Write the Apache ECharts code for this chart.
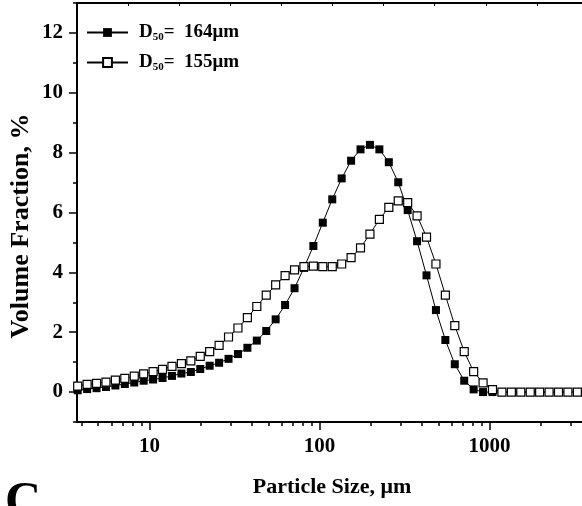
<!DOCTYPE html>
<html>
<head>
<meta charset="utf-8">
<script src="https://cdn.jsdelivr.net/npm/echarts@6/dist/echarts.min.js"></script>
<style>html,body{margin:0;padding:0;background:#fff}#c{width:582px;height:506px}</style>
</head>
<body>
<div id="c"></div>
<script>
// Particle sizes (µm), log-spaced class centres
const sizes = [3.785,4.300,4.886,5.551,6.307,7.166,8.142,9.251,10.51,11.94,
  13.57,15.42,17.52,19.90,22.61,25.69,29.19,33.16,37.68,42.81,
  48.64,55.26,62.79,71.34,81.05,92.09,104.6,118.9,135.1,153.5,
  174.4,198.1,225.1,255.8,290.6,330.2,375.1,426.2,484.2,550.2,
  625.1,710.2,806.9,916.8,1041.7,1183.5,1344.7,1527.8,1735.8,1972,
  2241,2546,2893,3287];
// D50 = 164 µm (filled squares)
const volA = [0.06,0.10,0.13,0.17,0.22,0.27,0.32,0.38,0.42,0.47,
  0.54,0.62,0.67,0.77,0.88,0.98,1.11,1.27,1.48,1.72,
  2.04,2.43,2.91,3.47,4.15,4.88,5.66,6.44,7.14,7.73,
  8.11,8.26,8.11,7.68,7.01,6.08,5.04,3.90,2.74,1.74,
  0.93,0.38,0.09,0.00,0.00,0.00,0.00,0.00,0.00,0.00,
  0.00,0.00,0.00,0.00];
// D50 = 155 µm (open squares)
const volB = [0.20,0.26,0.29,0.33,0.40,0.46,0.53,0.61,0.68,0.76,
  0.86,0.95,1.04,1.19,1.35,1.56,1.84,2.14,2.49,2.86,
  3.24,3.58,3.89,4.08,4.19,4.21,4.19,4.19,4.28,4.49,
  4.82,5.28,5.77,6.17,6.39,6.33,5.89,5.18,4.28,3.24,
  2.22,1.35,0.68,0.31,0.08,0.00,0.00,0.00,0.00,0.00,
  0.00,0.00,0.00,0.00];
const seriesNames = ['A', 'B'];
const seriesLabels = {A: '164μm', B: '155μm'};
const xMin = 3.75, xMax = 3500;
const yMin = -1, yMax = 13;
const yMajor = [0, 2, 4, 6, 8, 10, 12];
const xMinorTicks = [4,5,6,7,8,9,20,30,40,50,60,70,80,90,200,300,400,500,600,700,800,900,2000,3000];

const FONT = '"Liberation Serif", "Times New Roman", serif';
const chart = echarts.init(document.getElementById('c'), null, {renderer: 'canvas'});
const pairs = arr => sizes.map((s, i) => [s, arr[i]]);
const axisLineStyle = {color: '#000', width: 2};
const labelStyle = {color: '#000', fontFamily: FONT, fontWeight: 'bold', fontSize: 21};

chart.setOption({
  animation: false,
  backgroundColor: '#fff',
  grid: {left: 77, right: 0, top: 3, bottom: 84},
  legend: {
    orient: 'vertical', left: 86, top: 22, padding: 0,
    itemWidth: 41, itemHeight: 11, itemGap: 9,
    data: seriesNames,
    formatter: n => '{a|D}{b|50}{a|=  ' + seriesLabels[n] + '}',
    textStyle: {
      padding: [0, 0, 0, 6],
      rich: {
        a: {fontFamily: FONT, fontWeight: 'bold', fontSize: 19, color: '#000', lineHeight: 21},
        b: {fontFamily: FONT, fontWeight: 'bold', fontSize: 11, color: '#000', lineHeight: 21, padding: [10, 0, 0, 0]}
      }
    }
  },
  xAxis: [
    {type: 'log', logBase: 10, min: xMin, max: xMax, position: 'bottom',
     axisLine: {onZero: false, lineStyle: axisLineStyle}, splitLine: {show: false},
     axisTick: {length: 8, lineStyle: {color: '#000', width: 1.5}},
     axisLabel: Object.assign({margin: 14, showMinLabel: false, showMaxLabel: false,
       formatter: v => String(Math.round(v))}, labelStyle)},
    {type: 'value', min: Math.log10(xMin), max: Math.log10(xMax), position: 'bottom',
     axisLine: {show: false, onZero: false}, splitLine: {show: false},
     axisTick: {show: true, length: 4, customValues: xMinorTicks.map(v => Math.log10(v)), lineStyle: {color: '#000', width: 1.5}},
     axisLabel: {show: false}},
    {type: 'value', min: 0, max: 505 / 51.1, interval: 1, position: 'top',
     axisLine: {onZero: false, lineStyle: axisLineStyle}, splitLine: {show: false},
     axisTick: {inside: true, length: 3, lineStyle: {color: '#000', width: 1}},
     axisLabel: {show: false}}
  ],
  yAxis: [
    {type: 'value', min: yMin, max: yMax, position: 'left',
     axisLine: {onZero: false, lineStyle: axisLineStyle}, splitLine: {show: false},
     axisTick: {length: 8, customValues: yMajor, lineStyle: {color: '#000', width: 1.5}},
     axisLabel: Object.assign({margin: 14, customValues: yMajor}, labelStyle)},
    {type: 'value', min: yMin, max: yMax, interval: 2, position: 'left',
     axisLine: {show: false, onZero: false}, splitLine: {show: false},
     axisTick: {length: 4, lineStyle: {color: '#000', width: 1.5}},
     axisLabel: {show: false}}
  ],
  graphic: [
    {type: 'text', x: 332, y: 487, style: {text: 'Particle Size, μm', font: 'bold 22px ' + FONT, fill: '#000', align: 'center', verticalAlign: 'middle'}},
    {type: 'text', x: 21, y: 226, rotation: Math.PI / 2, style: {text: 'Volume Fraction, %', font: 'bold 26px ' + FONT, fill: '#000', align: 'center', verticalAlign: 'middle'}},
    {type: 'text', x: 5, y: 478, style: {text: 'C', font: 'bold 50px ' + FONT, fill: '#000', align: 'left', verticalAlign: 'top'}}
  ],
  series: [
    {name: 'A', type: 'line', xAxisIndex: 0, yAxisIndex: 0, data: pairs(volA),
     symbol: 'rect', symbolSize: 8, showAllSymbol: true,
     itemStyle: {color: '#000'}, lineStyle: {color: '#000', width: 1}},
    {name: 'B', type: 'line', xAxisIndex: 0, yAxisIndex: 0, data: pairs(volB),
     symbol: 'rect', symbolSize: 8, showAllSymbol: true,
     itemStyle: {color: '#fff', borderColor: '#000', borderWidth: 1.2}, lineStyle: {color: '#000', width: 1}}
  ]
});
</script>
</body>
</html>
